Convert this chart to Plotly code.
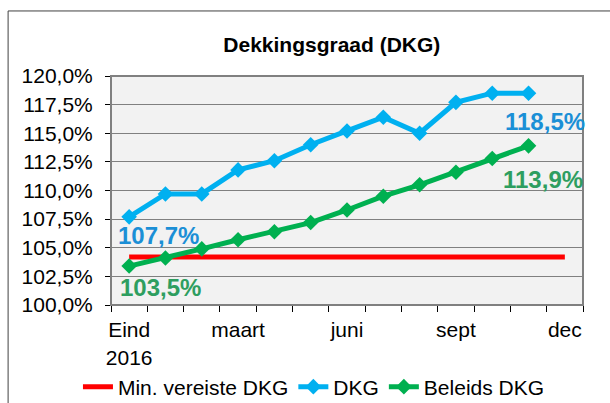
import plotly.graph_objects as go

months = ["Eind 2016", "jan", "feb", "maart", "apr", "mei", "juni",
          "juli", "aug", "sept", "okt", "nov", "dec"]
tick_labels = ["Eind<br>2016", "", "", "maart", "", "", "juni",
               "", "", "sept", "", "", "dec"]
min_dkg = [104.2] * 13
dkg = [107.7, 109.7, 109.7, 111.8, 112.6, 114.0, 115.2, 116.4, 115.0, 117.7, 118.5, 118.5]
beleids_dkg = [103.4, 104.1, 104.9, 105.7, 106.4, 107.2, 108.3, 109.5, 110.5, 111.6, 112.8, 113.9]
y_ticks = [100.0, 102.5, 105.0, 107.5, 110.0, 112.5, 115.0, 117.5, 120.0]
y_tick_labels = ["100,0%", "102,5%", "105,0%", "107,5%", "110,0%",
                 "112,5%", "115,0%", "117,5%", "120,0%"]

RED = "#ff0000"
BLUE = "#00b0f0"
GREEN = "#00b050"
BLUE_LBL = "#1b8fd6"
GREEN_LBL = "#2e9e60"
FONT = "Liberation Sans, Arial, sans-serif"

fig = go.Figure()
fig.add_trace(go.Scatter(x=months, y=min_dkg, mode="lines", name="Min. vereiste DKG",
                         line=dict(color=RED, width=5)))
fig.add_trace(go.Scatter(x=months[:len(dkg)], y=dkg, mode="lines+markers", name="DKG",
                         line=dict(color=BLUE, width=5),
                         marker=dict(symbol="diamond", size=12, color=BLUE)))
fig.add_trace(go.Scatter(x=months[:len(beleids_dkg)], y=beleids_dkg, mode="lines+markers",
                         name="Beleids DKG",
                         line=dict(color=GREEN, width=5),
                         marker=dict(symbol="diamond", size=12, color=GREEN)))

def fmt(v):
    return f"{v:.1f}".replace(".", ",") + "%"

lbl_font = dict(family=FONT, size=24)
annotations = [
    dict(x=months[0], y=dkg[0], text="<b>" + fmt(dkg[0]) + "</b>", showarrow=False,
         xanchor="left", yanchor="middle", xshift=-13, yshift=-19,
         font=dict(color=BLUE_LBL, **lbl_font)),
    dict(x=months[len(dkg) - 1], y=dkg[-1], text="<b>" + fmt(dkg[-1]) + "</b>", showarrow=False,
         xanchor="left", yanchor="middle", xshift=-26, yshift=-28,
         font=dict(color=BLUE_LBL, **lbl_font)),
    dict(x=months[0], y=103.5, text="<b>" + fmt(103.5) + "</b>", showarrow=False,
         xanchor="left", yanchor="middle", xshift=-11, yshift=-23,
         font=dict(color=GREEN_LBL, **lbl_font)),
    dict(x=months[len(beleids_dkg) - 1], y=beleids_dkg[-1], text="<b>" + fmt(beleids_dkg[-1]) + "</b>",
         showarrow=False, xanchor="left", yanchor="middle", xshift=-28, yshift=-34,
         font=dict(color=GREEN_LBL, **lbl_font)),
]

shapes = [
    dict(type="rect", xref="paper", yref="paper", x0=0, x1=1, y0=0, y1=1,
         line=dict(color="#808080", width=2), layer="above"),
    dict(type="rect", xref="paper", yref="paper", x0=-0.218, x1=1.3, y0=-0.7, y1=1.284,
         line=dict(color="#404040", width=1)),
]

fig.update_layout(
    width=610, height=403,
    margin=dict(l=111, r=27, t=76, b=98, autoexpand=False),
    paper_bgcolor="white",
    plot_bgcolor="#f2f2f2",
    separators=",.",
    font=dict(family=FONT, size=21, color="black"),
    title=dict(text="<b>Dekkingsgraad (DKG)</b>", x=0.544, xanchor="center",
               y=0.888, yanchor="middle", font=dict(family=FONT, size=21, color="black")),
    showlegend=True,
    legend=dict(orientation="h", x=0.43, xanchor="center", y=-0.358, yanchor="middle",
                font=dict(family=FONT, size=21, color="black"),
                bgcolor="rgba(0,0,0,0)", itemwidth=30, tracegroupgap=0),
    annotations=annotations,
    shapes=shapes,
)
fig.update_xaxes(
    type="category", categoryorder="array", categoryarray=months,
    range=[-0.5, len(months) - 0.5],
    tickvals=months, ticktext=tick_labels, tickson="boundaries", tickangle=0,
    ticks="outside", ticklen=6, tickcolor="black", automargin=False,
    ticklabelstandoff=6,
    showgrid=False, showline=True, linecolor="black", linewidth=1,
    zeroline=False, tickfont=dict(family=FONT, size=21, color="black"),
)
fig.update_yaxes(
    range=[100, 120], tickvals=y_ticks, ticktext=y_tick_labels,
    ticks="outside", ticklen=5, tickcolor="black", automargin=False,
    ticklabelstandoff=8,
    showgrid=True, gridcolor="#808080", gridwidth=1,
    showline=True, linecolor="black", linewidth=1, zeroline=False,
    tickfont=dict(family=FONT, size=21, color="black"),
)

fig.write_html("out.html", config={"displayModeBar": False},
               post_script="document.body.style.margin='0px';")
